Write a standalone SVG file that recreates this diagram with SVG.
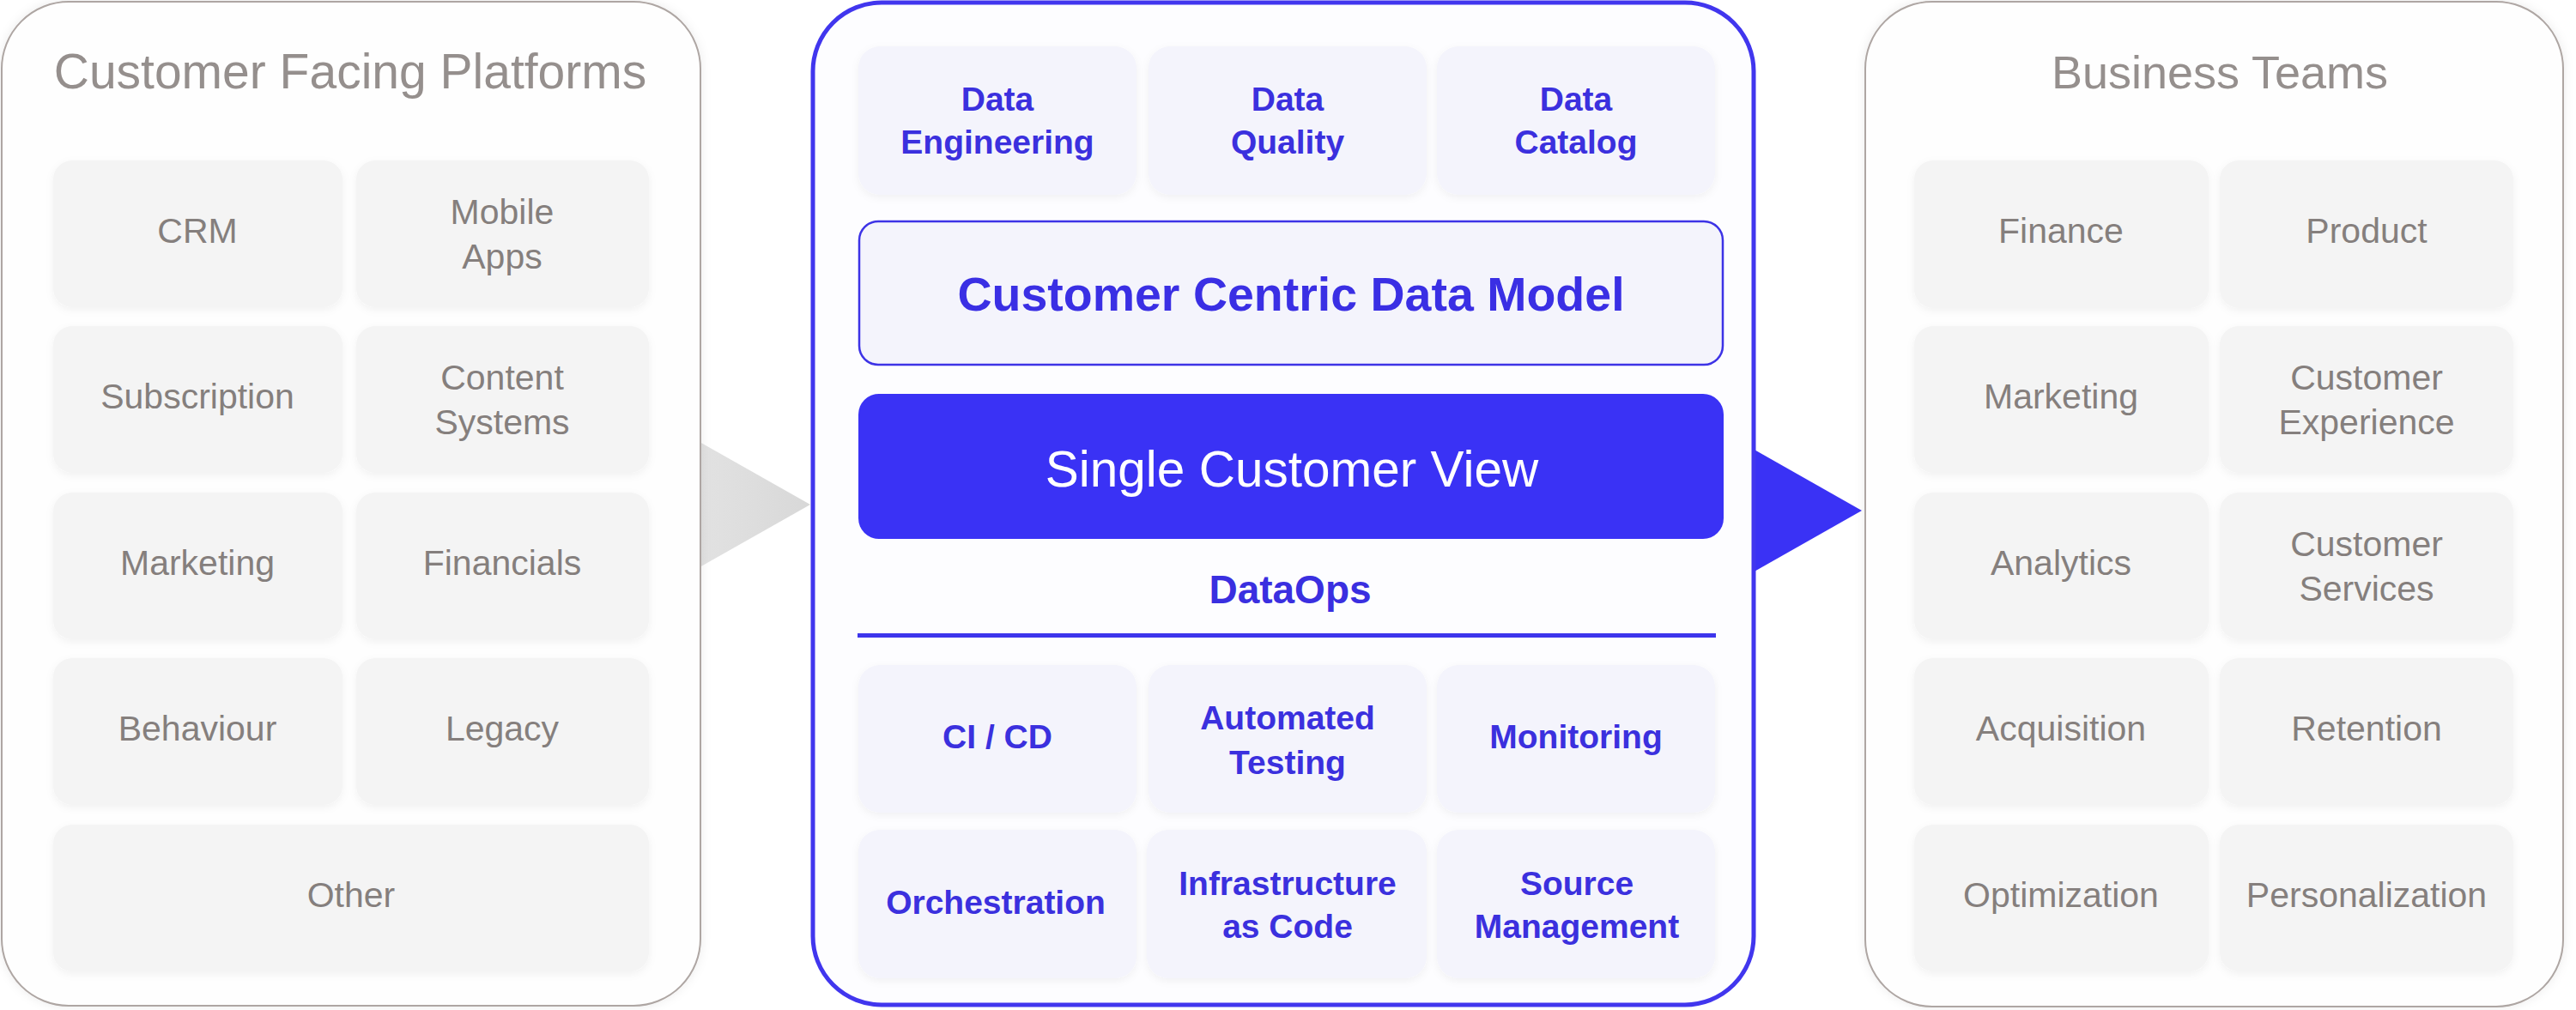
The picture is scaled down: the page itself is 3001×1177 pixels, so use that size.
<svg xmlns="http://www.w3.org/2000/svg" width="3001" height="1177" viewBox="0 0 3001 1177">
<defs>
<style>
.panel{fill:#fefefe;stroke:#aea6a3;stroke-width:2}
.cell{fill:#f4f4f4}
.bcell{fill:#f4f4fc}
.gt{font-family:"Liberation Sans",Arial,sans-serif;font-size:41px;fill:#857f7d;text-anchor:middle}
.title{font-family:"Liberation Sans",Arial,sans-serif;fill:#958f8d;text-anchor:middle}
.bt{font-family:"Liberation Sans",Arial,sans-serif;font-size:39px;font-weight:bold;fill:#3b30de;text-anchor:middle}
</style>
<filter id="sh" x="-10%" y="-10%" width="120%" height="130%">
<feDropShadow dx="0" dy="3" stdDeviation="5" flood-color="#000" flood-opacity="0.05"/>
</filter>
<filter id="psh" x="-5%" y="-5%" width="110%" height="110%">
<feDropShadow dx="0" dy="0" stdDeviation="6" flood-color="#000" flood-opacity="0.08"/>
</filter>
<linearGradient id="ga" x1="0" y1="0" x2="1" y2="0">
<stop offset="0" stop-color="#e2e2e2"/>
<stop offset="1" stop-color="#d8d8d8"/>
</linearGradient>
</defs>
<rect width="3001" height="1177" fill="#ffffff"/>

<g id="connectors">
<polygon points="815,515 944,588 815,661" fill="url(#ga)"/>
<polygon points="2042,523 2169,595 2042,667" fill="#3a32f5"/>
</g>

<g id="left-panel">
<rect class="panel" x="2" y="2" width="814" height="1170" rx="78" filter="url(#psh)"/>
<text class="title" x="408" y="103" font-size="57">Customer Facing Platforms</text>
</g>
<g id="l-crm"><rect class="cell" x="62" y="187" width="337" height="171" rx="22" filter="url(#sh)"/><text class="gt" x="230" y="283">CRM</text></g>
<g id="l-mobile"><rect class="cell" x="415" y="187" width="341" height="171" rx="22" filter="url(#sh)"/><text class="gt" x="585" y="261">Mobile</text><text class="gt" x="585" y="313">Apps</text></g>
<g id="l-subscription"><rect class="cell" x="62" y="380" width="337" height="171" rx="22" filter="url(#sh)"/><text class="gt" x="230" y="476">Subscription</text></g>
<g id="l-content"><rect class="cell" x="415" y="380" width="341" height="171" rx="22" filter="url(#sh)"/><text class="gt" x="585" y="454">Content</text><text class="gt" x="585" y="506">Systems</text></g>
<g id="l-marketing"><rect class="cell" x="62" y="574" width="337" height="171" rx="22" filter="url(#sh)"/><text class="gt" x="230" y="670">Marketing</text></g>
<g id="l-financials"><rect class="cell" x="415" y="574" width="341" height="171" rx="22" filter="url(#sh)"/><text class="gt" x="585" y="670">Financials</text></g>
<g id="l-behaviour"><rect class="cell" x="62" y="767" width="337" height="171" rx="22" filter="url(#sh)"/><text class="gt" x="230" y="863">Behaviour</text></g>
<g id="l-legacy"><rect class="cell" x="415" y="767" width="341" height="171" rx="22" filter="url(#sh)"/><text class="gt" x="585" y="863">Legacy</text></g>
<g id="l-other"><rect class="cell" x="62" y="961" width="694" height="171" rx="22" filter="url(#sh)"/><text class="gt" x="409" y="1057">Other</text></g>

<g id="center-panel">
<rect x="947" y="3" width="1096" height="1168" rx="80" fill="#fdfdff" stroke="#4136ee" stroke-width="5"/>
</g>
<g id="c-eng"><rect class="bcell" x="1000" y="54" width="324" height="173" rx="25" filter="url(#sh)"/><text class="bt" x="1162" y="129">Data</text><text class="bt" x="1162" y="179">Engineering</text></g>
<g id="c-quality"><rect class="bcell" x="1338" y="54" width="324" height="173" rx="25" filter="url(#sh)"/><text class="bt" x="1500" y="129">Data</text><text class="bt" x="1500" y="179">Quality</text></g>
<g id="c-catalog"><rect class="bcell" x="1674" y="54" width="324" height="173" rx="25" filter="url(#sh)"/><text class="bt" x="1836" y="129">Data</text><text class="bt" x="1836" y="179">Catalog</text></g>
<g id="c-model"><rect x="1001" y="258" width="1006" height="167" rx="22" fill="#f4f4fc" stroke="#3d33e6" stroke-width="2.5"/><text x="1504" y="362" font-family="'Liberation Sans',Arial,sans-serif" font-size="55.5" font-weight="bold" fill="#3a2fe4" text-anchor="middle">Customer Centric Data Model</text></g>
<g id="c-scv"><rect x="1000" y="459" width="1008" height="169" rx="24" fill="#3a32f5"/><text x="1505" y="567" font-family="'Liberation Sans',Arial,sans-serif" font-size="58.5" fill="#ffffff" text-anchor="middle">Single Customer View</text></g>
<g id="c-dataops"><text x="1503" y="703" font-family="'Liberation Sans',Arial,sans-serif" font-size="46" font-weight="bold" fill="#3a2fe0" text-anchor="middle">DataOps</text><rect x="999" y="738" width="1000" height="5" fill="#3d35ec"/></g>
<g id="c-cicd"><rect class="bcell" x="1000" y="775" width="324" height="172" rx="25" filter="url(#sh)"/><text class="bt" x="1162" y="872">CI / CD</text></g>
<g id="c-testing"><rect class="bcell" x="1338" y="775" width="324" height="172" rx="25" filter="url(#sh)"/><text class="bt" x="1500" y="850">Automated</text><text class="bt" x="1500" y="902">Testing</text></g>
<g id="c-monitoring"><rect class="bcell" x="1674" y="775" width="324" height="172" rx="25" filter="url(#sh)"/><text class="bt" x="1836" y="872">Monitoring</text></g>
<g id="c-orch"><rect class="bcell" x="1000" y="967" width="324" height="173" rx="25" filter="url(#sh)"/><text class="bt" x="1160" y="1065">Orchestration</text></g>
<g id="c-iac"><rect class="bcell" x="1336" y="967" width="326" height="173" rx="25" filter="url(#sh)"/><text class="bt" x="1500" y="1043">Infrastructure</text><text class="bt" x="1500" y="1093">as Code</text></g>
<g id="c-source"><rect class="bcell" x="1674" y="967" width="324" height="173" rx="25" filter="url(#sh)"/><text class="bt" x="1837" y="1043">Source</text><text class="bt" x="1837" y="1093">Management</text></g>

<g id="right-panel">
<rect class="panel" x="2173" y="2" width="813" height="1171" rx="78" filter="url(#psh)"/>
<text class="title" x="2586" y="103" font-size="54">Business Teams</text>
</g>
<g id="r-finance"><rect class="cell" x="2230" y="187" width="343" height="172" rx="22" filter="url(#sh)"/><text class="gt" x="2401" y="283">Finance</text></g>
<g id="r-product"><rect class="cell" x="2586" y="187" width="342" height="172" rx="22" filter="url(#sh)"/><text class="gt" x="2757" y="283">Product</text></g>
<g id="r-marketing"><rect class="cell" x="2230" y="380" width="343" height="171" rx="22" filter="url(#sh)"/><text class="gt" x="2401" y="476">Marketing</text></g>
<g id="r-cx"><rect class="cell" x="2586" y="380" width="342" height="171" rx="22" filter="url(#sh)"/><text class="gt" x="2757" y="454">Customer</text><text class="gt" x="2757" y="506">Experience</text></g>
<g id="r-analytics"><rect class="cell" x="2230" y="574" width="343" height="171" rx="22" filter="url(#sh)"/><text class="gt" x="2401" y="670">Analytics</text></g>
<g id="r-cs"><rect class="cell" x="2586" y="574" width="342" height="171" rx="22" filter="url(#sh)"/><text class="gt" x="2757" y="648">Customer</text><text class="gt" x="2757" y="700">Services</text></g>
<g id="r-acquisition"><rect class="cell" x="2230" y="767" width="343" height="171" rx="22" filter="url(#sh)"/><text class="gt" x="2401" y="863">Acquisition</text></g>
<g id="r-retention"><rect class="cell" x="2586" y="767" width="342" height="171" rx="22" filter="url(#sh)"/><text class="gt" x="2757" y="863">Retention</text></g>
<g id="r-optimization"><rect class="cell" x="2230" y="961" width="343" height="171" rx="22" filter="url(#sh)"/><text class="gt" x="2401" y="1057">Optimization</text></g>
<g id="r-personalization"><rect class="cell" x="2586" y="961" width="342" height="171" rx="22" filter="url(#sh)"/><text class="gt" x="2757" y="1057">Personalization</text></g>
</svg>
